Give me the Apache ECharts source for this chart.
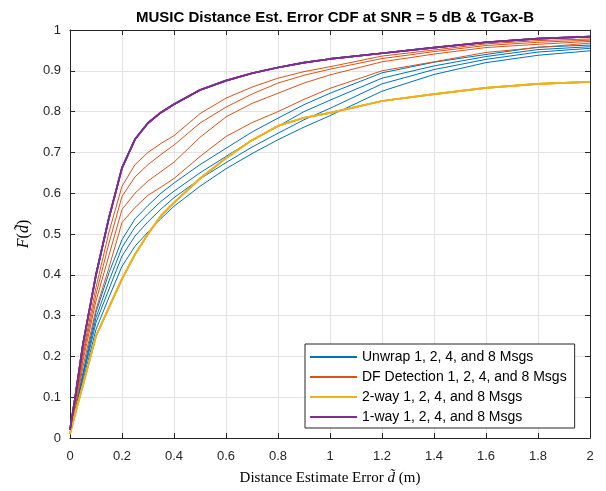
<!DOCTYPE html>
<html>
<head>
<meta charset="utf-8">
<script src="https://cdn.jsdelivr.net/npm/echarts@6/dist/echarts.min.js"></script>
<style>html,body{margin:0;padding:0;background:#fff;}#c{width:606px;height:491px;}</style>
</head>
<body>
<div id="c"></div>
<script>
// Distance estimate error grid (m)
const dGrid = [0, 0.02, 0.05, 0.1, 0.15, 0.2, 0.25, 0.3, 0.35, 0.4, 0.5, 0.6, 0.7, 0.8, 0.9, 1.0, 1.2, 1.4, 1.6, 1.8, 2.0];

// Unwrap 1, 2, 4, 8 Msgs
const unwrapA = [0.02, 0.07, 0.16, 0.308, 0.405, 0.486, 0.537, 0.570, 0.60, 0.625, 0.67, 0.71, 0.75, 0.784, 0.817, 0.845, 0.895, 0.921, 0.940, 0.958, 0.963];
const unwrapB = [0.02, 0.065, 0.155, 0.295, 0.385, 0.467, 0.517, 0.550, 0.580, 0.605, 0.65, 0.69, 0.73, 0.764, 0.80, 0.828, 0.882, 0.912, 0.935, 0.952, 0.959];
const unwrapC = [0.02, 0.06, 0.15, 0.283, 0.365, 0.446, 0.495, 0.530, 0.561, 0.589, 0.635, 0.675, 0.713, 0.747, 0.78, 0.808, 0.868, 0.903, 0.928, 0.946, 0.955];
const unwrapD = [0.02, 0.055, 0.14, 0.266, 0.345, 0.421, 0.470, 0.505, 0.538, 0.568, 0.617, 0.66, 0.697, 0.731, 0.762, 0.79, 0.85, 0.891, 0.920, 0.938, 0.949];

// DF Detection 1, 2, 4, 8 Msgs
const dfA = [0.02, 0.09, 0.21, 0.369, 0.505, 0.617, 0.670, 0.700, 0.722, 0.741, 0.795, 0.833, 0.86, 0.882, 0.898, 0.910, 0.936, 0.951, 0.966, 0.974, 0.978];
const dfB = [0.02, 0.085, 0.20, 0.352, 0.478, 0.592, 0.640, 0.670, 0.695, 0.718, 0.772, 0.811, 0.843, 0.870, 0.889, 0.904, 0.930, 0.947, 0.962, 0.970, 0.975];
const dfC = [0.02, 0.08, 0.19, 0.336, 0.448, 0.560, 0.600, 0.630, 0.653, 0.676, 0.737, 0.787, 0.82, 0.845, 0.87, 0.890, 0.922, 0.941, 0.957, 0.965, 0.972];
const dfD = [0.02, 0.075, 0.175, 0.315, 0.418, 0.528, 0.565, 0.595, 0.615, 0.636, 0.69, 0.739, 0.773, 0.800, 0.83, 0.857, 0.900, 0.922, 0.945, 0.957, 0.968];

// 2-way 1, 2, 4, 8 Msgs (curves coincide)
const twoWay = [0.01, 0.06, 0.13, 0.25, 0.32, 0.39, 0.45, 0.50, 0.545, 0.577, 0.636, 0.686, 0.73, 0.765, 0.785, 0.797, 0.826, 0.843, 0.858, 0.868, 0.873];

// 1-way 1, 2, 4, 8 Msgs (curves coincide)
const oneWay = [0.02, 0.10, 0.23, 0.40, 0.54, 0.662, 0.732, 0.772, 0.798, 0.818, 0.853, 0.876, 0.894, 0.908, 0.92, 0.929, 0.943, 0.957, 0.970, 0.979, 0.984];

const xTicks = [0, 0.2, 0.4, 0.6, 0.8, 1, 1.2, 1.4, 1.6, 1.8, 2];
const yTicks = [0, 0.1, 0.2, 0.3, 0.4, 0.5, 0.6, 0.7, 0.8, 0.9, 1];

const names = ['Unwrap 1, 2, 4, and 8 Msgs', 'DF Detection 1, 2, 4, and 8 Msgs', '2-way 1, 2, 4, and 8 Msgs', '1-way 1, 2, 4, and 8 Msgs'];
const colors = ['#0072BD', '#D95319', '#EDB120', '#7E2F8E'];
const groups = [
  [unwrapA, unwrapB, unwrapC, unwrapD],
  [dfA, dfB, dfC, dfD],
  [twoWay, twoWay, twoWay, twoWay],
  [oneWay, oneWay, oneWay, oneWay]
];
const widths = [1, 1, 1.7, 1.7];

const series = [];
groups.forEach((g, gi) => {
  g.forEach(arr => {
    series.push({
      name: names[gi],
      type: 'line',
      xAxisIndex: 0, yAxisIndex: 0,
      showSymbol: false,
      symbol: 'none',
      animation: false,
      lineStyle: { color: colors[gi], width: widths[gi] },
      itemStyle: { color: colors[gi] },
      data: dGrid.map((d, i) => [d, arr[i]])
    });
  });
});

const font = 'Liberation Sans, Arial, Helvetica, sans-serif';
const serif = 'Liberation Serif, Times New Roman, serif';
const axisCol = '#262626';
const fmt = v => String(parseFloat(v.toFixed(1)));

const chart = echarts.init(document.getElementById('c'), null, { renderer: 'canvas' });
chart.setOption({
  animation: false,
  backgroundColor: '#fff',
  title: {
    text: 'MUSIC Distance Est. Error CDF at SNR = 5 dB & TGax-B',
    left: 330, top: 5, textAlign: 'center',
    textStyle: { fontFamily: font, fontWeight: 'bold', fontSize: 15, color: '#000' }
  },
  grid: { left: 70, right: 16, top: 30, bottom: 52 },
  legend: {
    orient: 'vertical',
    left: 305, top: 344,
    data: names,
    icon: 'rect',
    itemWidth: 47, itemHeight: 2,
    itemGap: 4,
    padding: [5, 8, 3, 5],
    backgroundColor: '#fff',
    borderColor: axisCol, borderWidth: 1,
    textStyle: { fontFamily: font, fontSize: 14, color: '#000', lineHeight: 16 }
  },
  xAxis: [{
    type: 'value', min: 0, max: 2, interval: 0.2,
    name: '{n|Distance Estimate Error }{i|d̃}{n| (m)}',
    nameLocation: 'middle', nameGap: 33,
    nameTextStyle: { rich: {
      n: { fontFamily: serif, fontSize: 15, color: '#000' },
      i: { fontFamily: serif, fontSize: 15, fontStyle: 'italic', color: '#000' }
    } },
    axisLine: { onZero: false, lineStyle: { color: axisCol, width: 1 } },
    axisTick: { inside: true, length: 5, lineStyle: { color: axisCol } },
    axisLabel: { fontFamily: font, fontSize: 13, color: axisCol, margin: 12, formatter: fmt },
    splitLine: { show: true, lineStyle: { color: '#e3e3e3', width: 1 } }
  }, {
    type: 'value', min: 0, max: 2, interval: 0.2, position: 'top',
    axisLine: { onZero: false, lineStyle: { color: axisCol, width: 1 } },
    axisTick: { inside: true, length: 5, lineStyle: { color: axisCol } },
    axisLabel: { show: false }, splitLine: { show: false }
  }],
  yAxis: [{
    type: 'value', min: 0, max: 1, interval: 0.1,
    name: '{i|F}{n|(}{i|d̃}{n|)}',
    nameLocation: 'middle', nameGap: 36, nameRotate: 90,
    nameTextStyle: { rich: {
      n: { fontFamily: serif, fontSize: 16, color: '#000' },
      i: { fontFamily: serif, fontSize: 16, fontStyle: 'italic', color: '#000' }
    } },
    axisLine: { show: true, onZero: false, lineStyle: { color: axisCol, width: 1 } },
    axisTick: { show: true, inside: true, length: 5, lineStyle: { color: axisCol } },
    axisLabel: { fontFamily: font, fontSize: 13, color: axisCol, margin: 9, formatter: fmt },
    splitLine: { show: true, lineStyle: { color: '#e3e3e3', width: 1 } }
  }, {
    type: 'value', min: 0, max: 1, interval: 0.1, position: 'right',
    axisLine: { show: true, onZero: false, lineStyle: { color: axisCol, width: 1 } },
    axisTick: { show: true, inside: true, length: 5, lineStyle: { color: axisCol } },
    axisLabel: { show: false }, splitLine: { show: false }
  }],
  series: series
});
</script>
</body>
</html>
